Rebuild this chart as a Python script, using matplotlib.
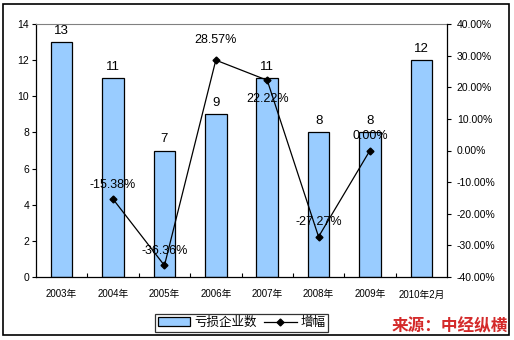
import numpy as np
import matplotlib.pyplot as plt
from matplotlib.patches import Rectangle
from matplotlib.lines import Line2D
from matplotlib.ticker import FuncFormatter

plt.rcParams['font.family'] = ['Liberation Sans', 'Noto Sans CJK SC', 'DejaVu Sans']

# 亏损企业数 / 增幅
years = ['2003年', '2004年', '2005年', '2006年', '2007年', '2008年', '2009年', '2010年2月']
loss_count = [13, 11, 7, 9, 11, 8, 8, 12]
growth_idx = [1, 2, 3, 4, 5, 6]
growth_pct = [-15.38, -36.36, 28.57, 22.22, -27.27, 0.00]

fig = plt.figure(figsize=(5.14, 3.4), dpi=100)
fig.patches.append(Rectangle((3 / 514, 1 - 335 / 340), 506 / 514, 331 / 340,
                             transform=fig.transFigure, fill=False,
                             edgecolor='black', linewidth=1.2))

ax = fig.add_axes([36 / 514, 1 - 277 / 340, 411 / 514, 253 / 340])
x = np.arange(len(years))
bars = ax.bar(x, loss_count, width=0.42, color='#99CCFF', edgecolor='black',
              linewidth=0.9, zorder=2)
for xi, v in zip(x, loss_count):
    ax.annotate(str(v), (xi, v), xytext=(0, 4), textcoords='offset points',
                ha='center', va='bottom', fontsize=9.5)

ax.set_xlim(-0.5, len(years) - 0.5)
ax.set_ylim(0, 14)
ax.set_yticks(range(0, 15, 2))
ax.set_xticks(x)
ax.set_xticklabels(years, fontsize=7)
ax.set_xticks(np.arange(0.5, len(years) - 0.5, 1), minor=True)
ax.tick_params(axis='x', which='major', length=0, pad=9)
ax.tick_params(axis='x', which='minor', direction='in', length=3, width=0.8)
ax.tick_params(axis='y', direction='out', length=3, width=0.8, labelsize=7.5, pad=2)
ax.spines['top'].set_color('#808080')
ax.spines['right'].set_visible(False)
for s in ['left', 'bottom']:
    ax.spines[s].set_linewidth(0.9)

ax2 = ax.twinx()
line, = ax2.plot(growth_idx, growth_pct, color='black', linewidth=0.9,
                 marker='D', markersize=3.5, zorder=3)
ax2.set_ylim(-40, 40)
ax2.set_yticks(range(-40, 41, 10))
ax2.yaxis.set_major_formatter(FuncFormatter(lambda v, p: f'{v:.2f}%'))
ax2.tick_params(axis='y', direction='out', length=3, width=0.8, labelsize=7.5, pad=4)
for s in ['left', 'top', 'bottom']:
    ax2.spines[s].set_visible(False)
ax2.spines['right'].set_linewidth(0.9)

# 22.22% label sits below its point, the rest above
label_dy = [6, 6, 10, -18, 6, 6]
for xi, v, dy in zip(growth_idx, growth_pct, label_dy):
    ax2.annotate(f'{v:.2f}%', (xi, v), xytext=(0, dy), textcoords='offset points',
                 ha='center', va='bottom', fontsize=9)

handles = [Rectangle((0, 0), 1, 1, facecolor='#99CCFF', edgecolor='black', linewidth=0.9),
           Line2D([], [], color='black', linewidth=0.9, marker='D', markersize=3.5)]
leg = fig.legend(handles, ['亏损企业数', '增幅'], loc='center',
                 bbox_to_anchor=(241.5 / 514, 1 - 323 / 340), ncol=2,
                 fontsize=9, frameon=True, fancybox=False, edgecolor='black',
                 handlelength=2.6, handletextpad=0.3, columnspacing=0.6,
                 borderpad=0.25, borderaxespad=0)
leg.get_frame().set_linewidth(0.9)

fig.text(508 / 514, 1 - 326 / 340, '来源：中经纵横', color='#D42A2A', fontsize=12,
         fontweight='bold', style='italic', ha='right', va='center',
         family=['Noto Sans CJK SC'])

fig.savefig('out.png', dpi=100)
